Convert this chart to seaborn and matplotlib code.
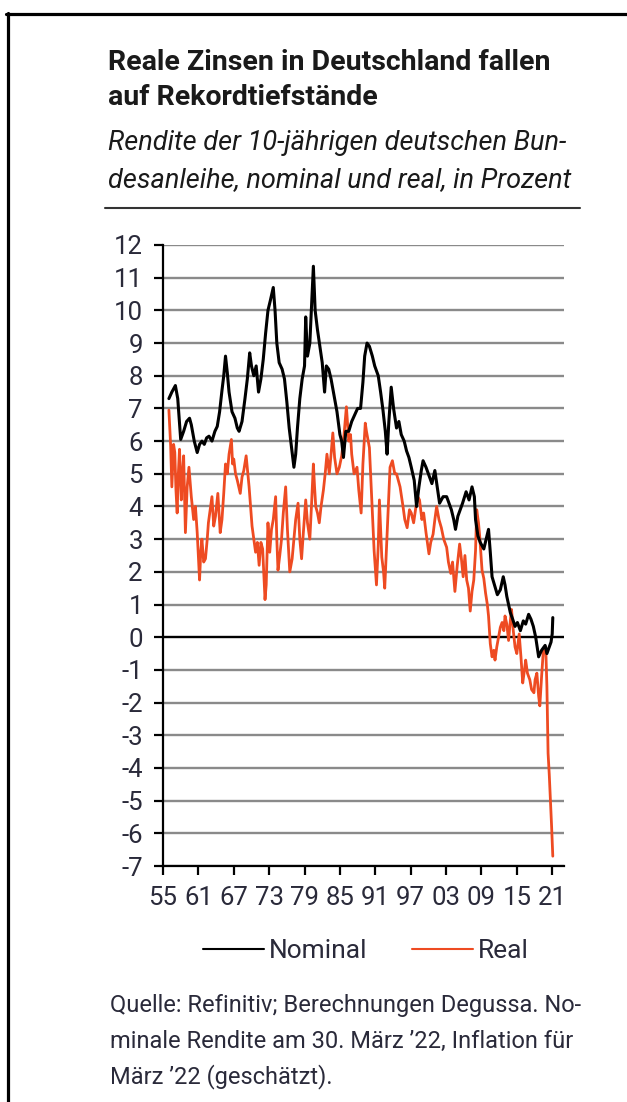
import pandas as pd
import matplotlib
matplotlib.use("Agg")
import matplotlib.pyplot as plt
from matplotlib.lines import Line2D
import seaborn as sns

# data (year, yield in %)
nominal_years = [1956.0, 1956.5, 1957.1, 1957.5, 1958.0, 1958.5, 1959.0, 1959.5, 1959.8, 1960.3,
                 1960.8, 1961.2, 1961.6, 1962.0, 1962.4, 1962.8, 1963.3, 1963.8, 1964.2, 1964.6,
                 1965.0, 1965.3, 1965.6, 1965.9, 1966.2, 1966.7, 1967.2, 1967.6, 1967.9, 1968.4,
                 1968.9, 1969.3, 1969.7, 1970.0, 1970.4, 1970.8, 1971.2, 1971.6, 1972.0, 1972.4,
                 1972.8, 1973.2, 1973.7, 1974.0, 1974.3, 1974.7, 1975.2, 1975.6, 1976.0, 1976.4,
                 1976.8, 1977.2, 1977.5, 1977.8, 1978.2, 1978.6, 1979.0, 1979.2, 1979.5, 1979.9,
                 1980.2, 1980.5, 1980.8, 1981.2, 1981.6, 1982.0, 1982.4, 1982.7, 1983.1, 1983.5,
                 1984.0, 1984.5, 1985.0, 1985.3, 1985.6, 1986.0, 1986.5, 1987.0, 1987.5, 1988.0,
                 1988.5, 1988.9, 1989.2, 1989.6, 1990.0, 1990.5, 1990.9, 1991.5, 1991.9, 1992.3,
                 1992.7, 1993.0, 1993.3, 1993.7, 1994.1, 1994.6, 1995.0, 1995.4, 1995.9, 1996.3,
                 1996.7, 1997.1, 1997.6, 1998.0, 1998.4, 1998.8, 1999.1, 1999.6, 2000.2, 2000.6,
                 2001.1, 2001.5, 2001.9, 2002.5, 2003.1, 2003.5, 2003.9, 2004.3, 2004.6, 2005.0,
                 2005.4, 2005.8, 2006.4, 2006.9, 2007.4, 2007.8, 2008.0, 2008.4, 2008.8, 2009.4,
                 2009.8, 2010.2, 2010.5, 2010.8, 2011.3, 2011.7, 2012.2, 2012.7, 2013.0, 2013.3,
                 2013.6, 2013.9, 2014.3, 2014.7, 2015.1, 2015.6, 2016.1, 2016.5, 2017.0, 2017.4,
                 2017.8, 2018.2, 2018.7, 2019.2, 2019.8, 2020.1, 2020.4, 2020.8, 2021.0, 2021.1]
nominal_values = [7.3, 7.5, 7.7, 7.3, 6.05, 6.3, 6.6, 6.7, 6.5, 6.0,
                  5.65, 5.9, 6.0, 5.9, 6.1, 6.15, 6.0, 6.3, 6.45, 6.9,
                  7.55, 8.0, 8.6, 8.1, 7.5, 6.9, 6.7, 6.4, 6.3, 6.6,
                  7.3, 7.9, 8.7, 8.3, 8.0, 8.3, 7.5, 7.9, 8.5, 9.3,
                  10.0, 10.3, 10.7, 10.0, 9.0, 8.4, 8.2, 7.9, 7.2, 6.4,
                  5.8, 5.2, 5.6, 6.4, 7.3, 7.9, 8.3, 9.8, 8.6, 9.0,
                  10.2, 11.35, 10.0, 9.4, 8.9, 8.4, 7.5, 8.3, 8.2, 7.9,
                  7.4, 6.9, 6.2, 6.0, 5.5, 6.3, 6.3, 6.6, 6.8, 7.0,
                  7.0, 7.8, 8.6, 9.0, 8.9, 8.6, 8.3, 8.0, 7.5, 6.95,
                  6.3, 5.6, 6.6, 7.65, 7.0, 6.4, 6.6, 6.2, 6.0, 5.7,
                  5.5, 5.2, 4.8, 4.0, 4.6, 5.1, 5.4, 5.2, 4.9, 4.7,
                  5.1, 4.6, 4.1, 4.3, 4.3, 4.1, 3.9, 3.6, 3.3, 3.7,
                  3.9, 4.1, 4.45, 4.2, 4.6, 4.3, 3.6, 3.1, 2.9, 2.7,
                  3.0, 3.3, 2.6, 1.85, 1.55, 1.3, 1.45, 1.85, 1.6, 1.25,
                  1.0, 0.75, 0.55, 0.33, 0.45, 0.2, 0.5, 0.4, 0.7, 0.55,
                  0.33, 0.0, -0.6, -0.4, -0.25, -0.5, -0.35, -0.15, 0.1, 0.6]

real_years = [1956.0, 1956.3, 1956.5, 1956.8, 1957.0, 1957.2, 1957.4, 1957.6, 1957.8, 1958.1,
              1958.3, 1958.5, 1958.8, 1959.1, 1959.4, 1959.8, 1960.2, 1960.5, 1960.8, 1961.2,
              1961.4, 1961.6, 1961.9, 1962.2, 1962.5, 1962.7, 1963.0, 1963.3, 1963.6, 1963.9,
              1964.3, 1964.7, 1965.0, 1965.3, 1965.6, 1965.9, 1966.2, 1966.6, 1966.8, 1967.0,
              1967.3, 1967.6, 1968.1, 1968.4, 1968.7, 1969.1, 1969.4, 1969.6, 1970.1, 1970.4,
              1970.7, 1971.0, 1971.3, 1971.6, 1971.9, 1972.1, 1972.3, 1972.5, 1972.8, 1973.1,
              1973.4, 1973.7, 1974.1, 1974.3, 1974.5, 1974.8, 1975.1, 1975.4, 1975.8, 1976.1,
              1976.5, 1976.9, 1977.2, 1977.5, 1977.9, 1978.2, 1978.5, 1978.8, 1979.2, 1979.5,
              1979.9, 1980.2, 1980.5, 1980.7, 1980.9, 1981.2, 1981.5, 1981.8, 1982.2, 1982.5,
              1982.8, 1983.2, 1983.5, 1983.8, 1984.1, 1984.5, 1984.9, 1985.3, 1985.7, 1986.1,
              1986.5, 1986.8, 1987.0, 1987.4, 1987.9, 1988.2, 1988.6, 1988.9, 1989.3, 1989.5,
              1989.8, 1990.0, 1990.4, 1990.8, 1991.2, 1991.5, 1991.7, 1992.1, 1992.4, 1992.6,
              1993.0, 1993.3, 1993.5, 1993.9, 1994.3, 1994.6, 1995.2, 1995.7, 1996.0, 1996.4,
              1996.8, 1997.1, 1997.5, 1997.9, 1998.2, 1998.5, 1998.9, 1999.2, 1999.6, 2000.1,
              2000.4, 2000.8, 2001.1, 2001.4, 2001.8, 2002.2, 2002.6, 2003.1, 2003.4, 2003.8,
              2004.1, 2004.5, 2004.9, 2005.3, 2005.6, 2005.9, 2006.2, 2006.5, 2006.8, 2007.1,
              2007.4, 2007.7, 2008.0, 2008.2, 2008.5, 2008.7, 2009.1, 2009.4, 2009.7, 2010.0,
              2010.2, 2010.5, 2010.8, 2011.1, 2011.3, 2011.6, 2011.9, 2012.2, 2012.5, 2012.8,
              2013.0, 2013.3, 2013.6, 2013.9, 2014.1, 2014.4, 2014.7, 2015.0, 2015.4, 2015.7,
              2016.0, 2016.3, 2016.5, 2016.8, 2017.2, 2017.5, 2017.9, 2018.1, 2018.4, 2018.7,
              2018.9, 2019.2, 2019.5, 2019.9, 2020.1, 2020.3, 2020.5, 2020.7, 2020.9, 2021.1]
real_values = [6.95, 5.85, 4.6, 5.9, 5.65, 4.5, 3.8, 5.0, 5.75, 4.2,
               5.0, 5.55, 3.2, 4.6, 5.2, 4.3, 3.6, 4.0, 3.2, 1.75,
               2.6, 3.0, 2.3, 2.4, 3.0, 3.5, 3.9, 4.3, 3.4, 3.7,
               4.4, 3.2, 3.6, 4.4, 5.3, 5.0, 5.6, 6.05, 5.3, 5.45,
               5.0, 4.8, 4.4, 4.9, 5.1, 5.55, 5.0, 4.6, 3.4, 3.0,
               2.6, 2.9, 2.2, 2.9, 2.7, 1.9, 1.15, 1.6, 3.5, 2.6,
               3.3, 3.6, 4.3, 3.0, 2.05, 2.5, 3.0, 3.8, 4.6, 3.3,
               2.0, 2.4, 3.0, 3.6, 4.1, 3.0, 2.4, 3.2, 4.2, 3.5,
               3.0, 4.1, 5.3, 4.6, 4.0, 3.8, 3.5, 4.0, 4.5, 5.0,
               5.6, 5.0, 5.6, 6.25, 5.5, 5.0, 5.2, 5.55, 6.2, 7.05,
               6.0, 6.2, 5.6, 5.0, 5.2, 4.5, 3.8, 5.3, 6.55, 6.3,
               6.0, 5.8, 4.2, 2.65, 1.6, 2.8, 4.2, 2.45, 2.0, 1.5,
               3.15, 4.4, 5.2, 5.4, 5.0, 5.0, 4.6, 4.0, 3.6, 3.35,
               3.9, 3.8, 3.5, 4.0, 4.3, 4.2, 3.6, 3.8, 3.2, 2.55,
               2.9, 3.15, 3.6, 4.0, 3.6, 3.35, 3.0, 2.75, 2.3, 1.95,
               2.3, 1.4, 2.2, 2.85, 2.4, 1.85, 2.5, 1.75, 1.5, 0.8,
               1.4, 1.75, 2.65, 3.9, 3.5, 3.1, 2.05, 1.8, 1.35, 1.0,
               0.65, -0.2, -0.6, -0.4, -0.7, -0.3, 0.0, 0.3, 0.45, 0.2,
               0.65, 0.4, -0.1, 0.5, 0.85, 0.2, -0.3, -0.5, 0.1, -0.6,
               -1.4, -1.0, -0.7, -1.1, -1.3, -1.6, -1.7, -1.3, -1.1, -1.8,
               -2.1, -1.2, -0.4, -0.3, -1.5, -3.55, -4.2, -5.0, -5.8, -6.7]

tick_years = [1955, 1961, 1967, 1973, 1979, 1985, 1991, 1997, 2003, 2009, 2015, 2021]
tick_labels = ["55", "61", "67", "73", "79", "85", "91", "97", "03", "09", "15", "21"]
y_ticks = list(range(-7, 13))

nominal = pd.DataFrame({"Jahr": nominal_years, "Rendite": nominal_values})
real = pd.DataFrame({"Jahr": real_years, "Rendite": real_values})

sns.set_theme(style="ticks")
plt.rcParams["font.family"] = ["Roboto", "DejaVu Sans"]
plt.rcParams["axes.unicode_minus"] = False

W, H = 627, 1102
fig = plt.figure(figsize=(W / 100, H / 100), dpi=100)
ax = fig.add_axes([163 / W, 1 - 866 / H, (564 - 163) / W, (866 - 245) / H])

red = "#ee4b22"
sns.lineplot(data=real, x="Jahr", y="Rendite", color=red, lw=2.0, ax=ax,
             estimator=None, sort=False)
sns.lineplot(data=nominal, x="Jahr", y="Rendite", color="black", lw=2.2, ax=ax,
             estimator=None, sort=False)

ax.set_xlim(1955, 2023)
ax.set_ylim(-7, 12)
ax.set_xticks(tick_years)
ax.set_xticklabels(tick_labels)
ax.set_yticks(y_ticks)
ax.set_xlabel("")
ax.set_ylabel("")
ax.set_axisbelow(True)
ax.yaxis.grid(True, color="#8a8a8a", lw=1.7)
ax.axhline(0, color="black", lw=1.6, zorder=1.5)
for s in ["top", "right"]:
    ax.spines[s].set_visible(False)
for s in ["left", "bottom"]:
    ax.spines[s].set_color("black")
    ax.spines[s].set_linewidth(1.6)
ax.tick_params(axis="both", direction="out", length=6.5, width=1.6, color="black",
               labelsize=18.5, labelcolor="#2a2a3a", pad=8)

# frame
fig.add_artist(Line2D([6 / W, 1], [1 - 13.5 / H] * 2, transform=fig.transFigure,
                      color="black", lw=2.3))
fig.add_artist(Line2D([7.5 / W] * 2, [0, 1 - 12.5 / H], transform=fig.transFigure,
                      color="black", lw=2.3))

tx = 108 / W
fig.text(tx, 1 - 70 / H, "Reale Zinsen in Deutschland fallen", fontsize=20.5,
         fontweight="bold", color="#1a1a1a", va="baseline")
fig.text(tx, 1 - 105 / H, "auf Rekordtiefstände", fontsize=20.5,
         fontweight="bold", color="#1a1a1a", va="baseline")
fig.text(tx, 1 - 150 / H, "Rendite der 10-jährigen deutschen Bun-", fontsize=19.5,
         style="italic", color="#1a1a1a", va="baseline")
fig.text(tx, 1 - 187 / H, "desanleihe, nominal und real, in Prozent", fontsize=19.5,
         style="italic", color="#1a1a1a", va="baseline")
fig.add_artist(Line2D([105 / W, 580 / W], [1 - 208 / H] * 2, transform=fig.transFigure,
                      color="#333333", lw=1.5))

handles = [Line2D([], [], color="black", lw=1.5), Line2D([], [], color=red, lw=1.5)]
fig.legend(handles, ["Nominal", "Real"], loc="center left",
           bbox_to_anchor=(203 / W, 1 - 951 / H), ncol=2, frameon=False,
           fontsize=19, handlelength=2.3, handletextpad=0.2, columnspacing=1.7,
           borderpad=0, borderaxespad=0, labelcolor="#2a2a3a")

foot = ["Quelle: Refinitiv; Berechnungen Degussa. No-",
        "minale Rendite am 30. März ’22, Inflation für",
        "März ’22 (geschätzt)."]
for i, line in enumerate(foot):
    fig.text(110 / W, 1 - (1012 + 35.5 * i) / H, line, fontsize=17,
             color="#2a2a3a", va="baseline")

fig.savefig("out.png", dpi=100, facecolor="white")
